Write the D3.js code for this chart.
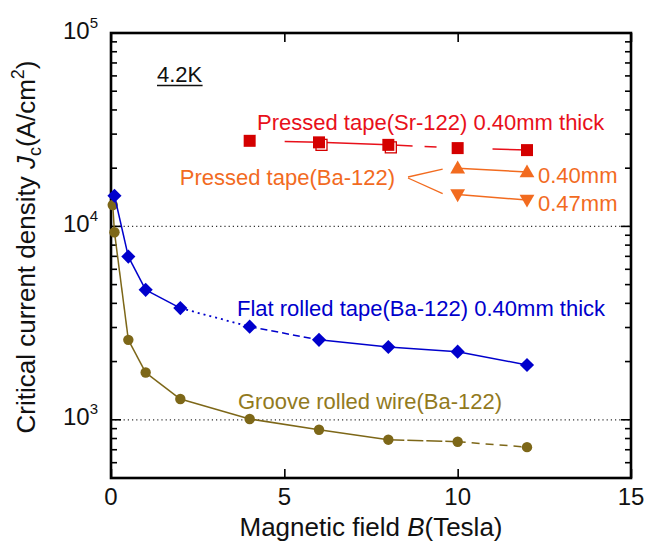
<!DOCTYPE html>
<html>
<head>
<meta charset="utf-8">
<script src="https://cdn.jsdelivr.net/npm/d3@7"></script>
<style>
html,body{margin:0;padding:0;background:#fff;}
svg{display:block;font-family:"Liberation Sans",Arial,sans-serif;}
</style>
</head>
<body>
<svg id="chart" width="648" height="544"></svg>
<script>
// ---------- data ----------
const xTickValues = [0, 5, 10, 15];
const yTickExponents = [3, 4, 5];

const srField = [4, 6, 8, 10, 12];
const srJc = [27700, 27200, 26400, 25400, 24800];
const srDoubled = [false, true, true, false, false];

const ba040Field = [10, 12];
const ba040Jc = [20000, 19100];
const ba047Field = [10, 12];
const ba047Jc = [14600, 13700];

const flatField = [0.1, 0.5, 1, 2, 4, 6, 8, 10, 12];
const flatJc = [14400, 6980, 4700, 3780, 3030, 2590, 2380, 2250, 1920];
const flatSegStyle = ["solid","solid","solid","dotted","dashed","solid","solid","solid"];

const grooveField = [0.05, 0.1, 0.5, 1, 2, 4, 6, 8, 10, 12];
const grooveJc = [12900, 9330, 2590, 1755, 1280, 1010, 888, 789, 770, 722];
const grooveSegStyle = ["solid","solid","solid","solid","solid","solid","solid","longdash","dashed2"];

// ---------- setup ----------
const svg = d3.select("#chart");
const L = 111, R = 631, T = 33, B = 478;
const x = d3.scaleLinear().domain([0, 15]).range([L, R]);
const y = d3.scaleLog().domain([500, 1e5]).range([B, T]);

const RED = "#e8101a", RED_M = "#d40000";
const ORANGE = "#f26b1f";
const BLUE = "#0000cc";
const OLIVE = "#7d6718", OLIVE_T = "#927a1e";

const dashFor = {solid: null, dotted: "2,4", dashed: "7,4", longdash: "16,3", dashed2: "8,6"};

// dotted reference lines
[1e3, 1e4].forEach(v => {
  svg.append("line").attr("x1", L).attr("x2", R).attr("y1", y(v)).attr("y2", y(v))
    .attr("stroke", "#333").attr("stroke-width", 1.2).attr("stroke-dasharray", "1.2,3");
});

// minor/major y ticks (left and right, inward)
const yMinor = [];
for (let e = 2; e <= 4; e++) for (let m = 2; m <= 9; m++) {
  const v = m * Math.pow(10, e);
  if (v >= 500 && v <= 1e5) yMinor.push(v);
}
const gAx = svg.append("g");
yMinor.forEach(v => {
  gAx.append("line").attr("x1", L).attr("x2", L + 6).attr("y1", y(v)).attr("y2", y(v)).attr("stroke", "#000").attr("stroke-width", 1.6);
  gAx.append("line").attr("x1", R).attr("x2", R - 6).attr("y1", y(v)).attr("y2", y(v)).attr("stroke", "#000").attr("stroke-width", 1.6);
});
yTickExponents.forEach(e => {
  const v = Math.pow(10, e);
  gAx.append("line").attr("x1", L).attr("x2", L + 10).attr("y1", y(v)).attr("y2", y(v)).attr("stroke", "#000").attr("stroke-width", 1.6);
  gAx.append("line").attr("x1", R).attr("x2", R - 10).attr("y1", y(v)).attr("y2", y(v)).attr("stroke", "#000").attr("stroke-width", 1.6);
});
// x ticks via d3 axis (bottom + top inward)
const xAxisB = d3.axisBottom(x).tickValues(xTickValues).tickSize(-9).tickFormat("");
const xAxisT = d3.axisTop(x).tickValues(xTickValues).tickSize(-9).tickFormat("");
const gxb = svg.append("g").attr("transform", `translate(0,${B})`).call(xAxisB);
const gxt = svg.append("g").attr("transform", `translate(0,${T})`).call(xAxisT);
[gxb, gxt].forEach(g => { g.select(".domain").remove(); g.selectAll("line").attr("stroke", "#000").attr("stroke-width", 1.6); });

// frame
svg.append("rect").attr("x", L).attr("y", T).attr("width", R - L).attr("height", B - T)
  .attr("fill", "none").attr("stroke", "#000").attr("stroke-width", 2.6);

// x tick labels
xTickValues.forEach(v => {
  svg.append("text").attr("x", x(v)).attr("y", B + 27).attr("text-anchor", "middle")
    .attr("font-size", 24).attr("fill", "#111").text(v);
});
// y tick labels
yTickExponents.forEach(e => {
  const t = svg.append("text").attr("x", L - 13).attr("y", y(Math.pow(10, e)) + 5.5)
    .attr("text-anchor", "end").attr("font-size", 24).attr("fill", "#111");
  t.append("tspan").text("10");
  t.append("tspan").attr("dy", -11).attr("font-size", 15).text(e);
});

// axis titles
const xt = svg.append("text").attr("x", (L + R) / 2).attr("y", 536).attr("text-anchor", "middle")
  .attr("font-size", 26).attr("fill", "#111");
xt.append("tspan").text("Magnetic field ");
xt.append("tspan").attr("font-style", "italic").text("B");
xt.append("tspan").text("(Tesla)");

const yt = svg.append("text").attr("transform", "translate(35,247) rotate(-90)")
  .attr("text-anchor", "middle").attr("font-size", 26).attr("fill", "#111");
yt.append("tspan").text("Critical current density ");
yt.append("tspan").attr("font-style", "italic").text("J");
yt.append("tspan").attr("dy", 6).attr("font-size", 18).text("c");
yt.append("tspan").attr("dy", -6).text("(A/cm");
yt.append("tspan").attr("dy", -11).attr("font-size", 18).text("2");
yt.append("tspan").attr("dy", 11).text(")");

// helper: segments with individual dash styles
function drawSegments(xs, ys, styles, color) {
  for (let i = 0; i < xs.length - 1; i++) {
    const st = styles[i];
    svg.append("line")
      .attr("x1", x(xs[i])).attr("y1", y(ys[i])).attr("x2", x(xs[i + 1])).attr("y2", y(ys[i + 1]))
      .attr("stroke", color).attr("stroke-width", st === "dotted" ? 1.8 : 1.5)
      .attr("stroke-dasharray", dashFor[st]);
  }
}

// ---------- Groove rolled wire ----------
drawSegments(grooveField, grooveJc, grooveSegStyle, OLIVE);
svg.append("g").selectAll("path").data(grooveField).join("path")
  .attr("d", d3.symbol().type(d3.symbolCircle).size(85))
  .attr("transform", (d, i) => `translate(${x(d)},${y(grooveJc[i])})`)
  .attr("fill", OLIVE);

// ---------- Flat rolled tape ----------
drawSegments(flatField, flatJc, flatSegStyle, BLUE);
svg.append("g").selectAll("path").data(flatField).join("path")
  .attr("d", d3.symbol().type(d3.symbolSquare).size(100))
  .attr("transform", (d, i) => `translate(${x(d)},${y(flatJc[i])}) rotate(45)`)
  .attr("fill", BLUE);

// ---------- Pressed tape Sr-122 ----------
const srLine = d3.line().x(d => x(d)).y((d, i) => y(srJc[i]));
svg.append("path").attr("d", srLine(srField)).attr("fill", "none")
  .attr("stroke", RED).attr("stroke-width", 1.5)
  .attr("stroke-dasharray", "0,35,128,12,12,56,80");
svg.append("g").selectAll("rect.open").data(srField.filter((d, i) => srDoubled[i])).join("rect")
  .attr("x", d => x(d) - 3).attr("y", d => y(srJc[srField.indexOf(d)]) - 3)
  .attr("width", 11).attr("height", 11).attr("fill", "#fff").attr("stroke", RED_M).attr("stroke-width", 1.3);
svg.append("g").selectAll("path").data(srField).join("path")
  .attr("d", d3.symbol().type(d3.symbolSquare).size(144))
  .attr("transform", (d, i) => `translate(${x(d)},${y(srJc[i])})`)
  .attr("fill", RED_M);

// ---------- Pressed tape Ba-122 ----------
[[ba040Field, ba040Jc, 0], [ba047Field, ba047Jc, 180]].forEach(([fx, fy, rot]) => {
  svg.append("line").attr("x1", x(fx[0])).attr("y1", y(fy[0])).attr("x2", x(fx[1])).attr("y2", y(fy[1]))
    .attr("stroke", ORANGE).attr("stroke-width", 1.5);
  svg.append("g").selectAll("path").data(fx).join("path")
    .attr("d", d3.symbol().type(d3.symbolTriangle).size(95))
    .attr("transform", (d, i) => `translate(${x(d)},${y(fy[i]) + (rot ? -1 : 1)}) rotate(${rot})`)
    .attr("fill", ORANGE);
});

// ---------- annotations ----------
const k = svg.append("text").attr("x", 157).attr("y", 82).attr("font-size", 22).attr("fill", "#111").text("4.2K");
const kb = k.node().getBBox();
svg.append("line").attr("x1", kb.x).attr("x2", kb.x + kb.width).attr("y1", 85.5).attr("y2", 85.5)
  .attr("stroke", "#111").attr("stroke-width", 1.5);

svg.append("text").attr("x", 257).attr("y", 129.5).attr("font-size", 22).attr("fill", RED)
  .text("Pressed tape(Sr-122) 0.40mm thick");

const baT = svg.append("text").attr("x", 395).attr("y", 185).attr("text-anchor", "end")
  .attr("font-size", 22).attr("fill", ORANGE).text("Pressed tape(Ba-122)");
const bb = baT.node().getBBox();
const lx0 = bb.x + bb.width + 13, ly0 = 177;
svg.append("line").attr("x1", lx0).attr("y1", ly0).attr("x2", x(ba040Field[0]) - 15).attr("y2", y(ba040Jc[0]) + 1)
  .attr("stroke", ORANGE).attr("stroke-width", 1.3);
svg.append("line").attr("x1", lx0).attr("y1", ly0 + 1).attr("x2", x(ba047Field[0]) - 15).attr("y2", y(ba047Jc[0]) - 1)
  .attr("stroke", ORANGE).attr("stroke-width", 1.3);

svg.append("text").attr("x", 538).attr("y", 183).attr("font-size", 22).attr("fill", ORANGE).text("0.40mm");
svg.append("text").attr("x", 538).attr("y", 211).attr("font-size", 22).attr("fill", ORANGE).text("0.47mm");

svg.append("text").attr("x", 237).attr("y", 316).attr("font-size", 22).attr("fill", BLUE)
  .text("Flat rolled tape(Ba-122) 0.40mm thick");

svg.append("text").attr("x", 238).attr("y", 409).attr("font-size", 22).attr("fill", OLIVE_T)
  .text("Groove rolled wire(Ba-122)");
</script>
</body>
</html>
